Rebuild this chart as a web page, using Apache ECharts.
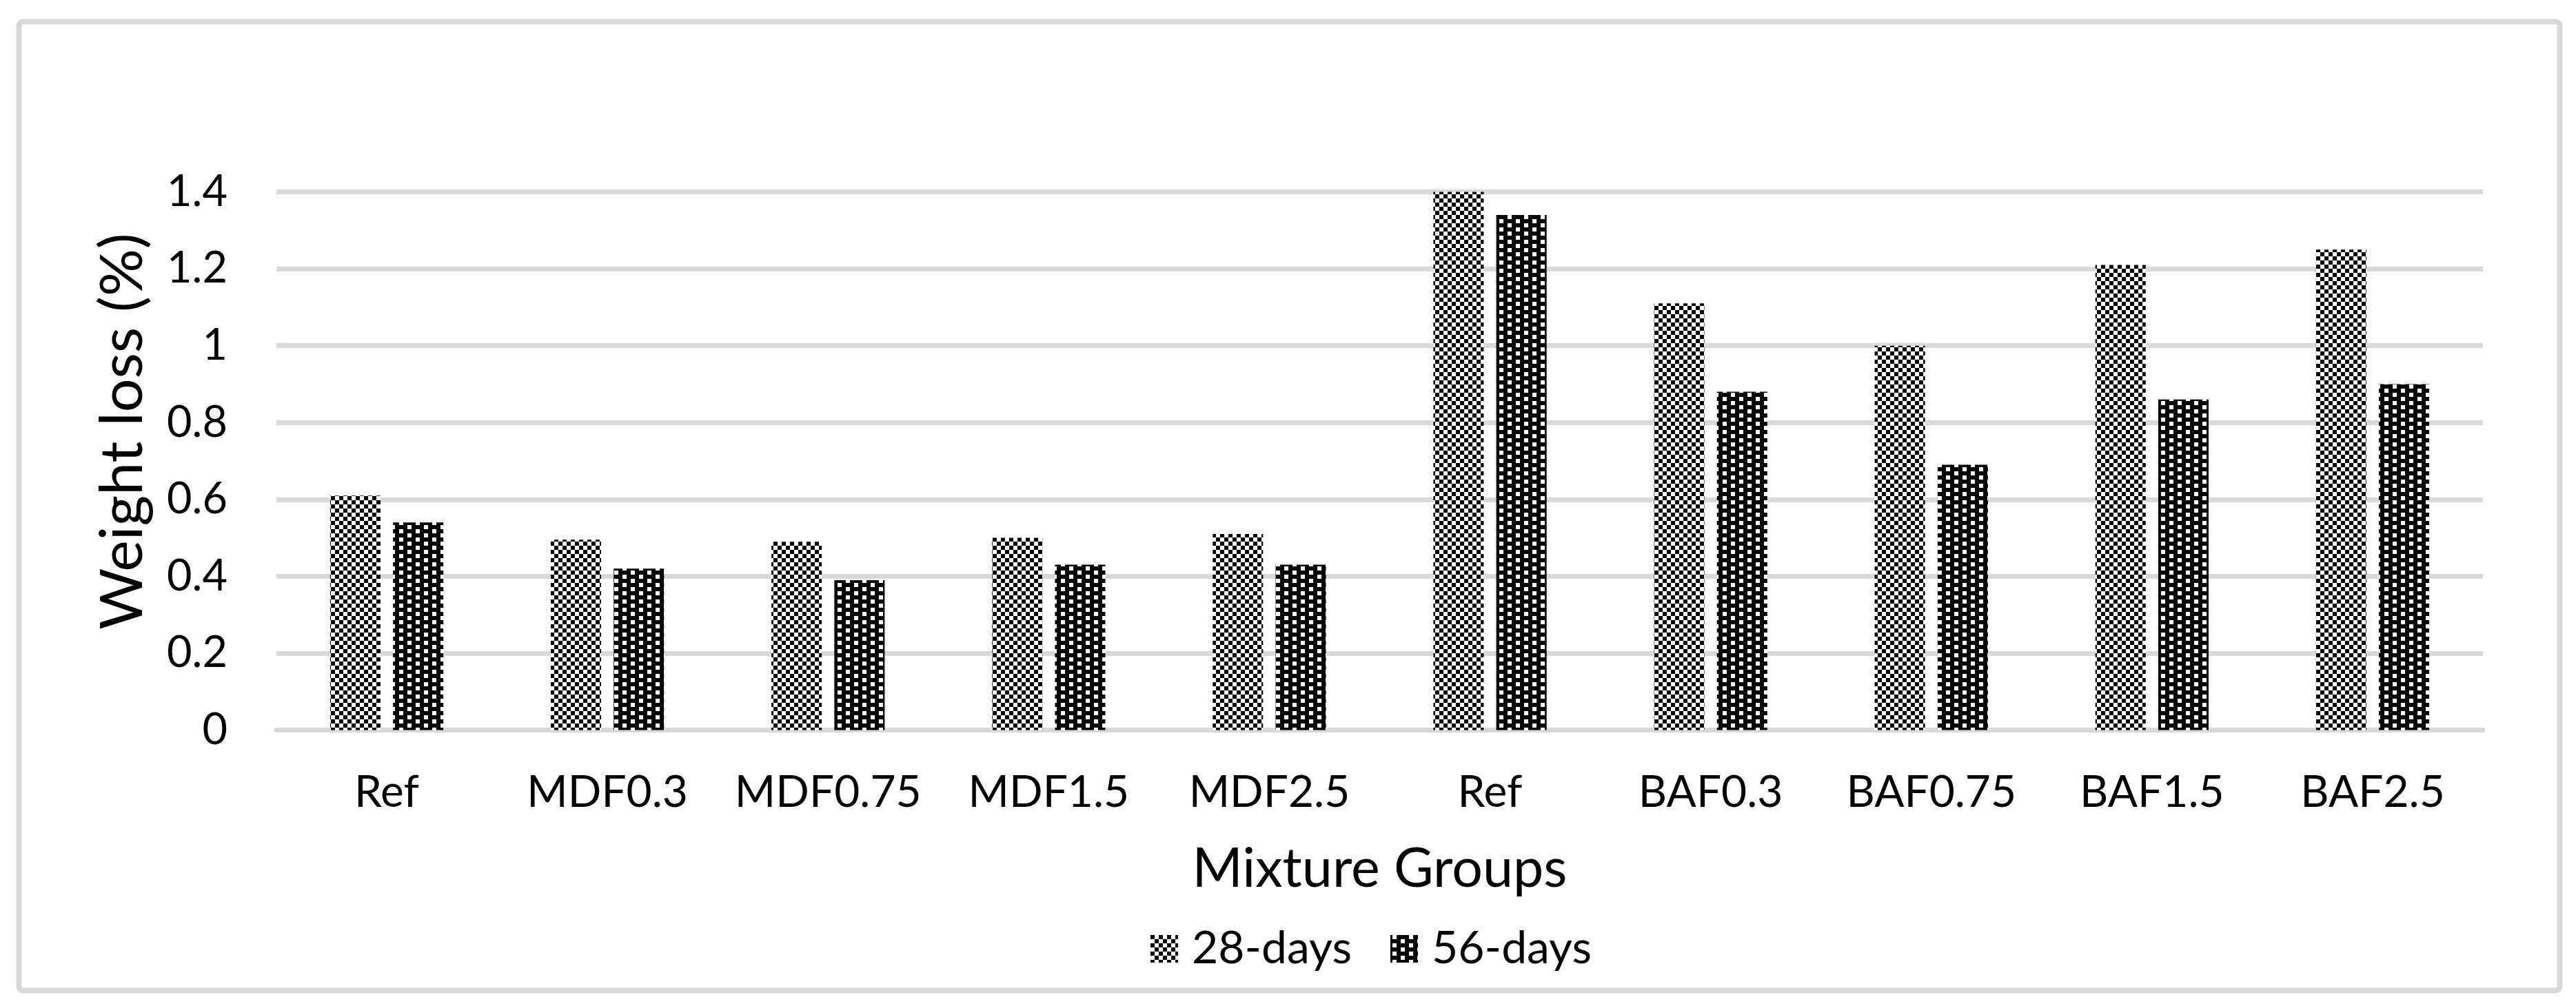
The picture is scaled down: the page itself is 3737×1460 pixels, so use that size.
<!DOCTYPE html>
<html><head><meta charset="utf-8">
<script src="https://cdn.jsdelivr.net/npm/echarts@6/dist/echarts.min.js"></script>
<style>html,body{margin:0;padding:0;background:#fff}#c{width:3737px;height:1460px}</style>
</head><body><div id="c"></div>
<script>
const categories = ['Ref','MDF0.3','MDF0.75','MDF1.5','MDF2.5','Ref','BAF0.3','BAF0.75','BAF1.5','BAF2.5'];
const seriesNames = ['28-days','56-days'];
const days28 = [0.61,0.495,0.49,0.50,0.51,1.40,1.11,1.00,1.21,1.25];
const days56 = [0.54,0.42,0.39,0.43,0.43,1.34,0.88,0.69,0.86,0.90];
const yMin = 0, yMax = 1.4, yStep = 0.2;

function checker(){
  const c=document.createElement('canvas'); c.width=12; c.height=12;
  const g=c.getContext('2d'); g.fillStyle='#fff'; g.fillRect(0,0,12,12);
  g.fillStyle='#000'; g.fillRect(0,0,6,6); g.fillRect(6,6,6,6); return c;
}
function dots(){
  const c=document.createElement('canvas'); c.width=24; c.height=12;
  const g=c.getContext('2d'); g.fillStyle='#000'; g.fillRect(0,0,24,12);
  g.fillStyle='#fff'; g.fillRect(3,0,6,6); g.fillRect(15,6,6,6); return c;
}
const FONT='Lato';
const chart=echarts.init(document.getElementById('c'),null,{renderer:'canvas'});
chart.setOption({
  animation:false,
  backgroundColor:'#fff',
  textStyle:{fontFamily:FONT,color:'#000'},
  grid:{left:401,right:135,top:278.5,bottom:400.5,containLabel:false},
  legend:{data:seriesNames,left:1664,top:1339,itemWidth:40,itemHeight:40,itemGap:56,
    textStyle:{fontFamily:FONT,fontSize:66,color:'#000',padding:[0,0,0,15]},icon:'rect'},
  xAxis:{type:'category',data:categories,
    axisLine:{lineStyle:{color:'#d9d9d9',width:7}},axisTick:{show:false},
    axisLabel:{fontFamily:FONT,fontSize:64,color:'#000',margin:59,interval:0},
    name:'Mixture Groups',nameLocation:'middle',nameGap:163,
    nameTextStyle:{fontFamily:FONT,fontSize:79,color:'#000'}},
  yAxis:{type:'value',min:yMin,max:yMax,interval:yStep,
    axisLine:{show:false},axisTick:{show:false},
    splitLine:{lineStyle:{color:'#d9d9d9',width:7}},
    axisLabel:{fontFamily:FONT,fontSize:63,color:'#000',margin:71},
    name:'Weight loss (%)',nameLocation:'middle',nameGap:180,
    nameTextStyle:{fontFamily:FONT,fontSize:86,color:'#000',padding:[0,0,0,86]}},
  series:[
    {name:seriesNames[0],type:'bar',data:days28,barWidth:73,barGap:'25%',
      itemStyle:{color:{image:checker(),repeat:'repeat'}}},
    {name:seriesNames[1],type:'bar',data:days56,barWidth:73,barGap:'25%',
      itemStyle:{color:{image:dots(),repeat:'repeat'}}}
  ],
  graphic:[{type:'rect',silent:true,z:-1,
    shape:{x:27.5,y:31.5,width:3686,height:1406,r:6},
    style:{fill:'none',stroke:'#d9d9d9',lineWidth:8}}]
});
</script></body></html>
